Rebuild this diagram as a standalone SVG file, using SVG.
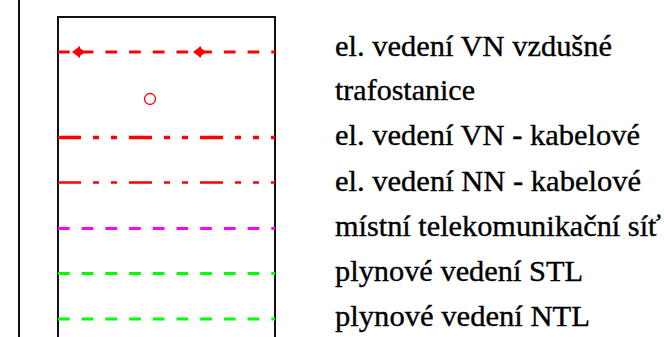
<svg xmlns="http://www.w3.org/2000/svg" width="664" height="337" viewBox="0 0 664 337">
<style>
.frame{fill:none;stroke:#111;stroke-width:2}
.dash{fill:none;stroke-dasharray:11.7 12}
.dd{fill:none;stroke-dasharray:23 12 6 12 6 12}
.lbl{font-family:"Liberation Serif","Times New Roman",serif;font-size:30px;fill:#000;stroke:#000;stroke-width:0.35}
</style>
<defs>
<path id="dblhead" d="M0,0 L8,-6 L8,6 Z M6,-5.5 L13,0 L6,5.5 Z" fill="#ff0000"/>
</defs>
<rect width="664" height="337" fill="#fff"/>
<g id="frame">
<line class="frame" x1="19" y1="0" x2="19" y2="337"/>
<path class="frame" d="M58,340 L58,17 L275,17 L275,340"/>
</g>
<g id="connectors">
<g id="vn-vzdusne">
<line class="dash" x1="58" y1="52" x2="275" y2="52" stroke="#ff0000" stroke-width="3.2"/>
<use href="#dblhead" x="72" y="52"/>
<use href="#dblhead" x="193" y="52"/>
</g>
<line id="vn-kabel" class="dd" x1="58" y1="137.5" x2="275" y2="137.5" stroke="#ff0000" stroke-width="3.6"/>
<line id="nn-kabel" class="dd" x1="58" y1="182.5" x2="275" y2="182.5" stroke="#ff0000" stroke-width="2.6"/>
<line id="telekom" class="dash" x1="58" y1="228.5" x2="275" y2="228.5" stroke="#ff00ff" stroke-width="3.2"/>
<line id="stl" class="dash" x1="58" y1="273.5" x2="275" y2="273.5" stroke="#00ff00" stroke-width="3.2"/>
<line id="ntl" class="dash" x1="58" y1="319" x2="275" y2="319" stroke="#00ff00" stroke-width="3.2"/>
</g>
<g id="trafo"><circle cx="150" cy="99" r="5.5" fill="none" stroke="#ff0000" stroke-width="1.3"/></g>
<g id="labels">
<text class="lbl" x="335" y="56" textLength="277" lengthAdjust="spacingAndGlyphs">el. vedení VN vzdušné</text>
<text class="lbl" x="335" y="100" textLength="140" lengthAdjust="spacingAndGlyphs">trafostanice</text>
<text class="lbl" x="335" y="145" textLength="305" lengthAdjust="spacingAndGlyphs">el. vedení VN - kabelové</text>
<text class="lbl" x="335" y="191" textLength="306" lengthAdjust="spacingAndGlyphs">el. vedení NN - kabelové</text>
<text class="lbl" x="335" y="236" textLength="326" lengthAdjust="spacingAndGlyphs">místní telekomunikační síť</text>
<text class="lbl" x="335" y="281" textLength="248" lengthAdjust="spacingAndGlyphs">plynové vedení STL</text>
<text class="lbl" x="335" y="326" textLength="255" lengthAdjust="spacingAndGlyphs">plynové vedení NTL</text>
</g>
</svg>
